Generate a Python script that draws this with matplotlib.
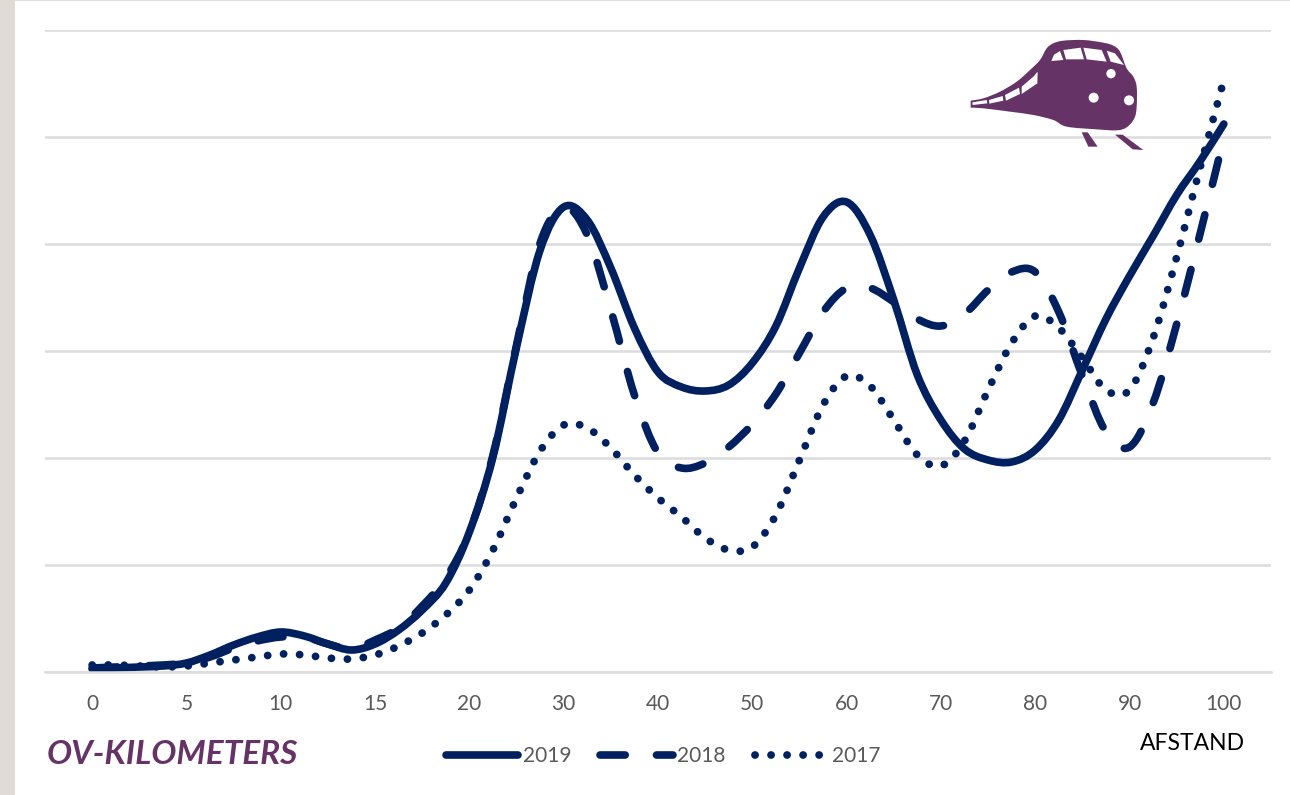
import matplotlib
matplotlib.use('Agg')
import matplotlib.pyplot as plt
import matplotlib.patches as mpatches
from matplotlib.lines import Line2D
from matplotlib.path import Path
import numpy as np

plt.rcParams['font.family'] = ['Lato', 'DejaVu Sans']

NAVY = '#002060'
PURPLE = '#663366'
GRID = '#DCDCDC'

labels = ['0', '5', '10', '15', '20', '30', '40', '50', '60', '70', '80', '90', '100']

# values per quarter category step, no scale printed in the source chart
# so unit = arbitrary, one gridline = 107
v2019 = [3, 4, 5, 6, 9, 17, 27, 35, 40, 36, 28, 22, 28, 42, 62, 89, 140, 215, 325, 422, 465,
         452, 404, 344, 300, 285, 281, 287, 309, 346, 404, 455, 470, 437, 372, 297, 252,
         223, 212, 210, 222, 252, 302, 353, 396, 436, 477, 511, 548]
v2018 = [4, 5, 6, 7, 9, 15, 24, 31, 35, 35, 28, 23, 32, 44, 66, 94, 140, 217, 327, 429, 465,
         437, 362, 277, 219, 204, 209, 225, 248, 278, 319, 360, 384, 384, 370, 353, 346,
         358, 382, 400, 400, 360, 296, 240, 225, 269, 348, 439, 534]
v2017 = [7, 7, 6, 5, 6, 9, 12, 15, 18, 17, 14, 13, 17, 26, 39, 57, 82, 122, 174, 221, 247,
         244, 224, 197, 174, 155, 134, 122, 125, 157, 212, 267, 296, 286, 252, 217, 206,
         231, 282, 329, 356, 344, 314, 282, 282, 334, 415, 505, 592]

x_steps = np.arange(len(v2019)) / 4


def smooth_path(xs, ys):
    # same kind of smoothing as a spreadsheet "smooth line": bezier through the points
    pts = np.column_stack([xs, ys])
    verts = [pts[0]]
    codes = [Path.MOVETO]
    for i in range(len(pts) - 1):
        p0 = pts[max(i - 1, 0)]
        p1 = pts[i]
        p2 = pts[i + 1]
        p3 = pts[min(i + 2, len(pts) - 1)]
        verts += [p1 + (p2 - p0) / 6, p2 - (p3 - p1) / 6, p2]
        codes += [Path.CURVE4] * 3
    return Path(verts, codes)


fig = plt.figure(figsize=(12.9, 7.95), dpi=100)
fig.add_artist(mpatches.Rectangle((0, 0), 15 / 1290, 1, color='#E0DCD5', lw=0))
fig.add_artist(mpatches.Rectangle((0, 1 - 1 / 795), 1, 1 / 795, color='#E0DCD5', lw=0))

ax = fig.add_axes([45 / 1290, 1 - 672 / 795, 1226 / 1290, 642 / 795])
ax.set_xlim(-0.5, 12.5)
ax.set_ylim(0, 642)
ax.set_xticks(range(len(labels)))
ax.set_xticklabels(labels)
ax.set_yticks(np.arange(0, 643, 107))
ax.set_yticklabels([])
ax.tick_params(axis='both', length=0)
ax.tick_params(axis='x', pad=16, labelsize=15, labelcolor='#595959')
ax.grid(True, axis='y', color=GRID, linewidth=1.8)
ax.set_axisbelow(True)
for side in ['top', 'right', 'left']:
    ax.spines[side].set_visible(False)
ax.spines['bottom'].set_color(GRID)
ax.spines['bottom'].set_linewidth(1.8)

styles = {
    '2019': dict(linestyle='-', linewidth=5.5),
    '2018': dict(linestyle=(0, (3.3, 4.1)), linewidth=5.5),
    '2017': dict(linestyle=(0, (0.01, 2.05)), linewidth=5.6),
}
handles = []
for name, vals in [('2019', v2019), ('2018', v2018), ('2017', v2017)]:
    patch = mpatches.PathPatch(smooth_path(x_steps, vals), fill=False, edgecolor=NAVY,
                               capstyle='round', joinstyle='round', **styles[name])
    ax.add_patch(patch)
    handles.append(Line2D([0], [0], color=NAVY, dash_capstyle='round', solid_capstyle='round',
                          label=name, **styles[name]))

leg = fig.legend(handles=handles, loc='center', ncol=3, frameon=False,
                 bbox_to_anchor=(663 / 1290, 1 - 756 / 795), fontsize=15,
                 handlelength=3.5, handletextpad=0.2, columnspacing=1.4, borderpad=0, borderaxespad=0)
for t in leg.get_texts():
    t.set_color('#595959')

fig.text(47 / 1290, 1 - 754 / 795, 'OV-KILOMETERS', color=PURPLE, fontsize=24,
         fontweight='bold', fontstyle='italic', ha='left', va='center')
fig.text(1245 / 1290, 1 - 743 / 795, 'AFSTAND', color='black', fontsize=16.5, ha='right', va='center')

# train icon, drawn in pixel coords of the picture
icon = fig.add_axes([0, 0, 1, 1], facecolor='none')
icon.set_xlim(0, 1290)
icon.set_ylim(795, 0)
icon.axis('off')


def to_px(pts):
    return [(950 + a / 3, 20 + b / 3) for a, b in pts]


body = [(62, 242), (100, 235), (150, 215), (200, 185), (240, 150), (270, 120), (290, 85), (310, 70),
        (340, 62), (400, 60), (460, 68), (490, 77), (510, 95), (530, 145), (550, 170), (560, 200),
        (560, 260), (553, 295), (530, 322), (500, 331), (440, 328), (350, 320), (310, 300),
        (250, 285), (180, 275), (100, 265), (62, 263)]
windows = [[(304, 123), (312, 104), (330, 93), (340, 120)],
           [(340, 90), (392, 83), (402, 118), (348, 118)],
           [(400, 83), (455, 90), (470, 125), (410, 118)],
           [(470, 92), (495, 100), (522, 135), (482, 125)],
           [(215, 200), (250, 170), (263, 155), (262, 190), (215, 222)],
           [(165, 225), (207, 203), (210, 222), (168, 242)],
           [(117, 240), (158, 228), (160, 242), (118, 251)],
           [(67, 247), (110, 240), (112, 250), (68, 255)]]
lamps = [(483, 161, 14), (431, 233, 15), (537, 241, 15)]
rails = [[(395, 337), (413, 337), (443, 380), (415, 380)],
         [(495, 344), (518, 344), (580, 390), (548, 388)]]

body_px = np.array(to_px(body))
icon.add_patch(mpatches.PathPatch(smooth_path(body_px[:, 0], body_px[:, 1]), facecolor=PURPLE, lw=0))
for w in windows:
    icon.add_patch(mpatches.Polygon(to_px(w), closed=True, color='white', lw=0))
for cx, cy, r in lamps:
    icon.add_patch(mpatches.Circle((950 + cx / 3, 20 + cy / 3), r / 3, color='white', lw=0))
for r in rails:
    icon.add_patch(mpatches.Polygon(to_px(r), closed=True, color=PURPLE, lw=0))

fig.savefig('out.png', dpi=100)
